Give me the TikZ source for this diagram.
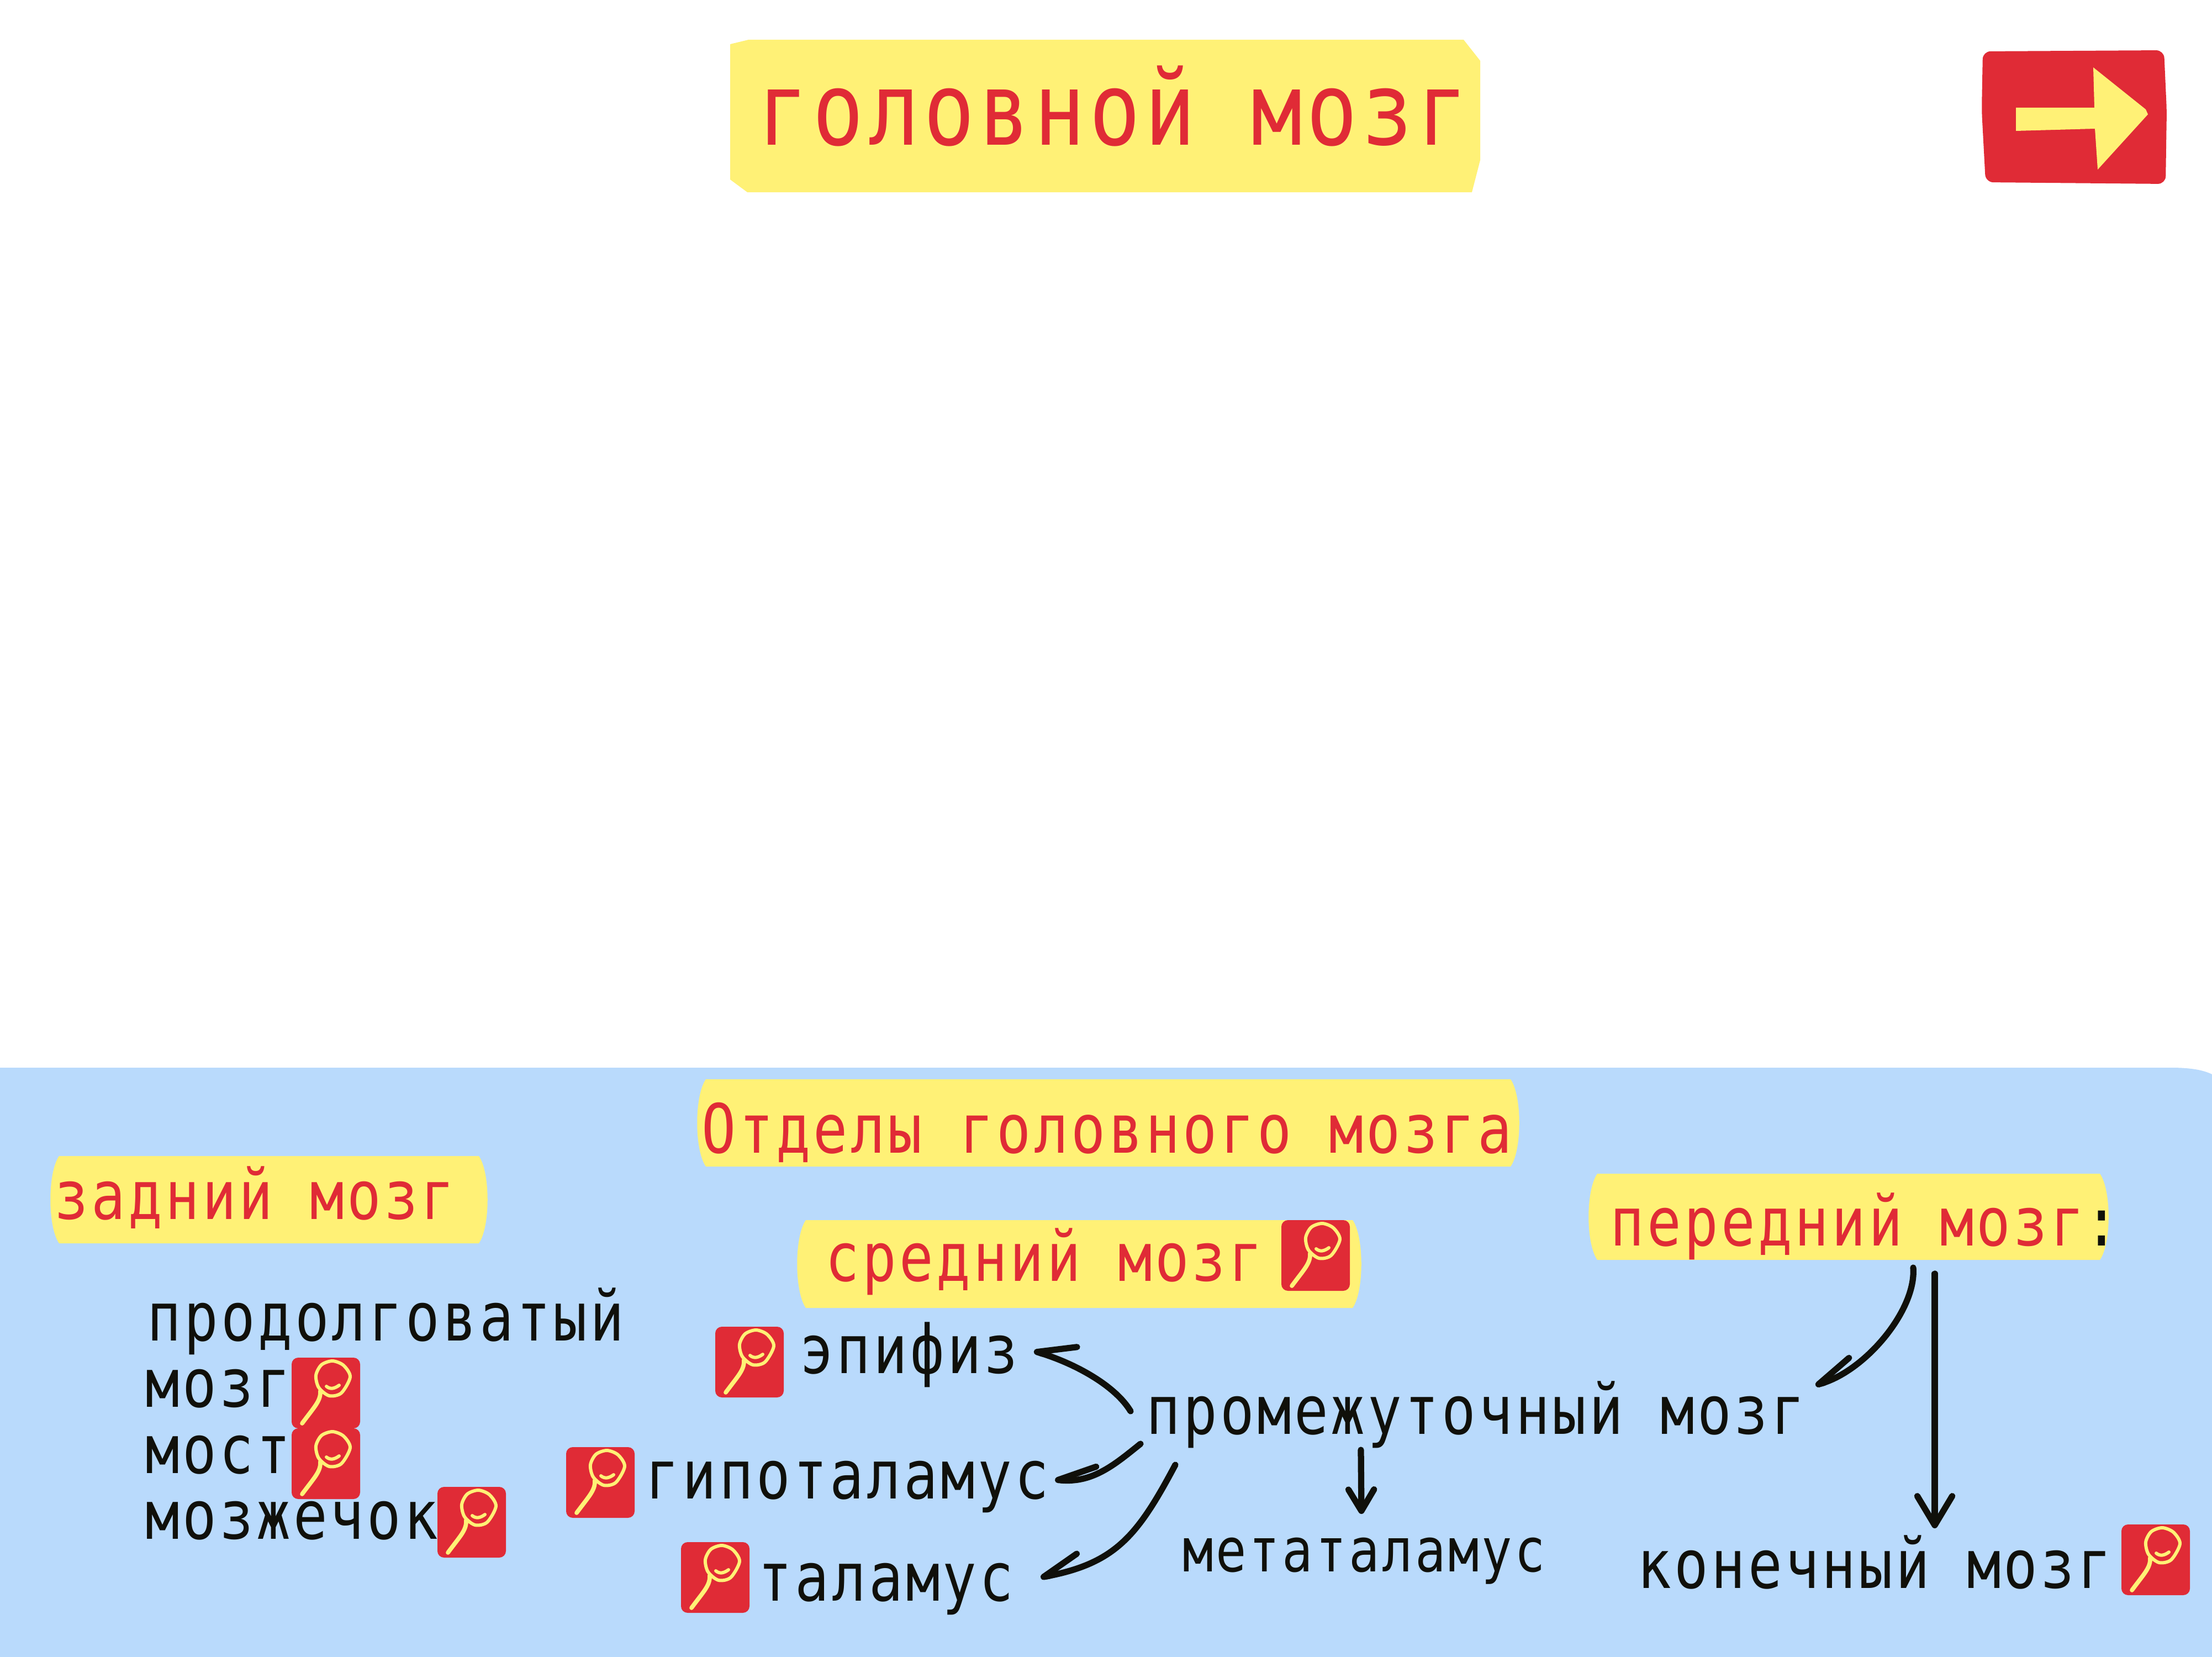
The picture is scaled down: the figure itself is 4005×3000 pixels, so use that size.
\documentclass[tikz,border=0pt]{standalone}
\usepackage{fontspec}
\usepackage{xcolor}
\usetikzlibrary{arrows.meta}
\newfontfamily\monofont[FakeStretch=0.84,LetterSpace=4.2]{DejaVu Sans Mono}
\definecolor{panelblue}{HTML}{B9DAFC}
\definecolor{hlyellow}{HTML}{FFF176}
\definecolor{inkred}{HTML}{E02B36}
\definecolor{inkblack}{HTML}{10100A}
\newcommand{\hlband}[4]{\fill[hlyellow] (#1+16,#2)--(#3-16,#2) .. controls (#3+5,#2+30) and (#3+5,#4-30) .. (#3-16,#4)--(#1+16,#4) .. controls (#1-5,#4-30) and (#1-5,#2+30) .. (#1+16,#2)--cycle;}
\tikzset{
  titletext/.style={anchor=base west,inner sep=0pt,text=inkred,font=\monofont\fontsize{52}{60}\selectfont},
  redtext/.style={anchor=base west,inner sep=0pt,text=inkred,font=\monofont\fontsize{34.7}{40}\selectfont},
  blacktext/.style={anchor=base west,inner sep=0pt,text=inkblack,font=\monofont\fontsize{34.7}{40}\selectfont},
  smalltext/.style={anchor=base west,inner sep=0pt,text=inkblack,font=\monofont\fontsize{31.2}{36}\selectfont},
  arrowline/.style={draw=inkblack,line width=3.2pt,line cap=round},
  straightarrow/.style={arrowline,-{Straight Barb[length=#1pt,width=1.2*#1pt,round]}},
  curvedarrow/.style={arrowline,-{Straight Barb[harpoon,swap,length=19pt,width=#1pt,round]}},
  lensicon/.pic={
    \fill[inkred,rounded corners=3.4pt] (0,0) rectangle (124,128);
    \draw[hlyellow,line width=1.7pt] plot[smooth cycle] coordinates {(74,6)(94,14)(106,35)(90,64)(68,69)(49,54)(44,32)(54,13)};
    \draw[hlyellow,line width=2.2pt,line cap=round] (52,60) .. controls (53,78) and (42,88) .. (19,119);
    \draw[hlyellow,line width=1.7pt,line cap=round] (63,52) .. controls (70,58) and (78,56) .. (86,50);
  }
}
\begin{document}
\begin{tikzpicture}[x=0.01cm,y=-0.01cm]
  \useasboundingbox (0,0) rectangle (4005,3000);
  \fill[panelblue] (0,1933)--(3930,1933) .. controls (3970,1933) and (3990,1938) .. (4005,1945)--(4005,3000)--(0,3000)--cycle;%panel

  %title and button
  \fill[hlyellow] (1322,80)--(1355,72)--(2650,72)--(2680,110)--(2680,290)--(2665,348)--(1353,348)--(1322,325)--cycle;
  \node[titletext] (title) at (1371,262) {головной мозг};
  \fill[inkred,rounded corners=4pt] (3590,93)--(3918,91)--(3923,200)--(3921,333)--(3595,330)--(3588,200)--cycle;
  \fill[hlyellow] (3650,195)--(3792,195)--(3790,122)--(3885,198)--(3889,207)--(3798,307)--(3793,233)--(3650,237)--cycle;

  %bands
  \hlband{1262}{1954}{2751}{2112}
  \hlband{91}{2093}{883}{2251}
  \hlband{1443}{2209}{2465}{2368}
  \hlband{2876}{2125}{3818}{2281}
  \node[redtext,font=\monofont\fontsize{35}{40}\selectfont] (otdely) at (1270,2087) {Отделы головного мозга};
  \node[redtext] (zadniy) at (98,2207) {задний мозг};
  \node[redtext] (sredniy) at (1494,2319) {средний мозг};
  \node[redtext] (peredniy) at (2915,2255) {передний мозг\textcolor{inkblack}{:}};

  %labels
  \node[blacktext] (prodolg) at (266,2427) {продолговатый};
  \node[blacktext] (mozg) at (263,2547) {мозг};
  \node[blacktext] (most) at (263,2667) {мост};
  \node[blacktext] (mozhechok) at (263,2786) {мозжечок};
  \node[blacktext] (epifiz) at (1447,2486) {эпифиз};
  \node[blacktext] (gipotalamus) at (1168,2713) {гипоталамус};
  \node[blacktext] (talamus) at (1372,2898) {таламус};
  \node[blacktext] (promezh) at (2075,2596) {промежуточный мозг};
  \node[smalltext] (metatalamus) at (2141,2845) {метаталамус};
  \node[blacktext] (konechny) at (2964,2875) {конечный мозг};

  %lens
  \foreach \x/\y in {528/2458,528/2586,792/2692,1295/2402,1025/2620,1233/2792,2320/2209,3841/2760}
    \pic at (\x,\y) {lensicon};

  %arrow ends
  \coordinate (promezhA) at (2047,2555);
  \coordinate (epifizE) at (1872,2446);
  \coordinate (promezhB) at (2065,2614);
  \coordinate (gipotE) at (1910,2679);
  \coordinate (promezhC) at (2128,2652);
  \coordinate (talamusE) at (1884,2856);
  \coordinate (promezhD) at (2464,2625);
  \coordinate (metaE) at (2465,2741);
  \coordinate (peredA) at (3464,2295);
  \coordinate (promezhE) at (3287,2508);
  \coordinate (peredB) at (3503,2306);
  \coordinate (konechE) at (3503,2767);

  \draw[curvedarrow=17] (promezhA) .. controls (2020,2510) and (1950,2470) .. (epifizE);
  \draw[curvedarrow=17] (promezhB) .. controls (2020,2650) and (1980,2685) .. (gipotE);
  \draw[curvedarrow=17] (promezhC) .. controls (2060,2780) and (2020,2830) .. (talamusE);
  \draw[straightarrow=11] (promezhD) -- (metaE);
  \draw[curvedarrow=17] (peredA) .. controls (3470,2370) and (3380,2480) .. (promezhE);
  \draw[straightarrow=15] (peredB) -- (konechE);
\end{tikzpicture}
\end{document}
